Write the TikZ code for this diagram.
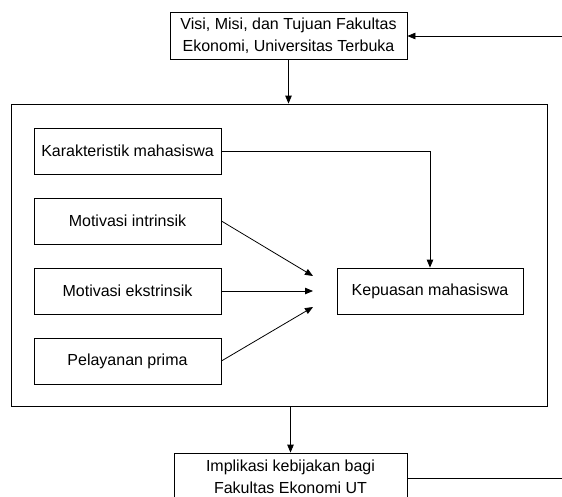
\documentclass[tikz,border=0pt]{standalone}
\usepackage{fontspec}
\setmainfont{Liberation Sans}
\usetikzlibrary{arrows.meta}

\tikzset{
  kotak/.style={draw, rectangle, minimum width=187pt, minimum height=46pt, inner sep=0pt, align=center},
  panah/.style={-{Triangle[length=8pt,width=6.5pt]}}
}

\begin{document}
\begin{tikzpicture}[x=1pt, y=-1pt, line width=0.8pt, font=\fontsize{16}{22}\selectfont]
\useasboundingbox (0,0) rectangle (562,496);
% kotak atas dan bawah
\node [kotak, minimum width=237pt, minimum height=47pt] (visi) at (288.5,35.5) {Visi, Misi, dan Tujuan Fakultas\\Ekonomi, Universitas Terbuka};
\node [kotak, minimum width=233pt, minimum height=48pt] (implikasi) at (290.5,477) {Implikasi kebijakan bagi\\Fakultas Ekonomi UT};
% kerangka tengah
\node [draw, rectangle, minimum width=536pt, minimum height=302pt, inner sep=0pt] (kerangka) at (279,255) {};
% variabel
\node [kotak] (karakter) at (127.5,151) {Karakteristik mahasiswa};
\node [kotak] (intrinsik) at (127.5,221) {Motivasi intrinsik};
\node [kotak] (ekstrinsik) at (127.5,291) {Motivasi ekstrinsik};
\node [kotak] (prima) at (127.5,361) {Pelayanan prima};
\node [kotak, minimum width=186pt] (kepuasan) at (430,291) {Kepuasan mahasiswa};
% titik ujung
\coordinate (umpan) at (562,36);
\coordinate (keluar) at (562,478);
\coordinate (t1) at (313,276);
\coordinate (t2) at (313,291);
\coordinate (t3) at (313,307);
% panah
\draw [panah] (umpan) -- (visi.east |- umpan);
\draw [panah] (visi.south) -- (visi.south |- kerangka.north);
\draw [panah] (karakter.east) -| (kepuasan.north);
\draw [panah] (intrinsik.east) -- (t1);
\draw [panah] (ekstrinsik.east) -- (t2);
\draw [panah] (prima.east) -- (t3);
\draw [panah] (kerangka.south -| implikasi.north) -- (implikasi.north);
\draw (implikasi.east |- keluar) -- (keluar);
\end{tikzpicture}
\end{document}
